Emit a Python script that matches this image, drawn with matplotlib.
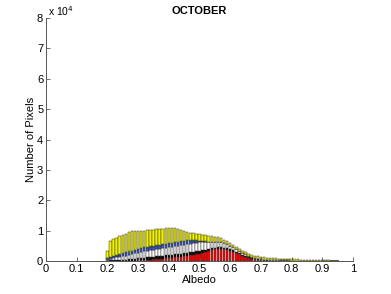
import numpy as np
import matplotlib.pyplot as plt

plt.rcParams['font.family'] = ['Liberation Sans', 'DejaVu Sans']

# albedo bin centres 0.20 ... 0.95, step 0.01
albedo = np.round(np.arange(0.20, 0.955, 0.01), 2)

red = [0, 0, 0, 0, 0, 0, 30, 70, 100, 130, 170, 230, 300, 330, 400, 500,
       590, 660, 760, 860, 990, 1090, 1190, 1320, 1450, 1580,
       1720, 1850, 1980, 2150, 2310, 2640, 2970, 3300, 3630, 3800,
       3960, 3960, 3800, 3630, 3300, 2970, 2640, 2150, 1650, 1320,
       990, 730, 530, 400, 300, 200, 130, 100] + [70] * 6 + [30] * 16

black = [100, 170, 230, 330, 330, 400, 460, 500, 560, 590, 660,
         760, 790, 860, 920, 920, 960, 990, 990, 990, 990,
         990, 1020, 990, 990, 990, 990, 990, 990, 990, 990,
         830, 660, 660, 500, 500, 500, 500, 500, 500, 500,
         500, 330, 330, 330, 330, 260, 200, 130, 100, 70,
         70, 70, 30] + [30] * 22

white = [230, 500, 760, 830, 990, 1250, 1320, 1420, 1650, 1750, 1820,
         1980, 2050, 2110, 2150, 2210, 2240, 2310, 2380, 2440, 2480,
         2540, 2570, 2640, 2670, 2710, 2740, 2770, 2810, 2810, 2810,
         2810, 2640, 2310, 2150, 1980, 1820, 1650, 1490, 1320, 1160,
         990, 990, 830, 660, 500, 400, 400, 330, 260, 230,
         170, 130, 130] + [100] * 12 + [70] * 10

blue = [330, 500, 500, 500, 660, 660, 660, 660, 660, 830, 990] + [990] * 16 + \
       [830, 660, 500, 330, 170, 100, 70, 30] + [0] * 41

green = [170, 170, 170, 330, 330, 330, 330, 500, 330, 330, 330] + [330] * 19 + \
        [170, 170, 100, 70, 30, 30] + [0] * 40

yellow = [2480, 5280, 5610, 5610, 5940, 5940, 6110, 6440, 6600, 6270, 5940,
          5610, 5450, 5610, 5450, 5280, 5450, 5280, 5120, 5280, 5120,
          4950, 4790, 4290, 3800, 3300, 2810, 2480, 2480, 2150, 2310,
          1980, 2110, 1850, 1910, 1620, 1650, 1490, 1160, 1160, 990,
          830, 660, 660, 660, 830, 660, 660, 660, 730, 730,
          730, 660, 730,
          690, 630, 560, 530, 460, 460,
          430, 400, 360, 330, 300, 260, 260, 230, 200, 170, 130, 100, 70, 30, 30, 20]

layers = [red, black, white, blue, green, yellow]
colors = ['#ff0000', '#000000', '#ffffff', '#3355e6', '#44cc44', '#f2f200']

fig = plt.figure(figsize=(3.91, 2.94), dpi=100)
ax = fig.add_axes([46 / 391, 33 / 294, 307 / 391, 243 / 294])

bottom = np.zeros(len(albedo))
for vals, c in zip(layers, colors):
    vals = np.array(vals, dtype=float)
    ax.bar(albedo, vals, width=0.008, bottom=bottom, color=c,
           edgecolor='#333333', linewidth=0.35)
    bottom += vals

ax.set_xlim(0, 1)
ax.set_ylim(0, 80000)
ax.set_xticks(np.arange(0, 1.01, 0.1))
ax.set_xticklabels(['0', '0.1', '0.2', '0.3', '0.4', '0.5', '0.6', '0.7', '0.8', '0.9', '1'])
ax.set_yticks(np.arange(0, 80001, 10000))
ax.set_yticklabels([str(i) for i in range(9)])
ax.tick_params(direction='in', length=3, width=0.6, color='#555555', labelsize=8, pad=2)
ax.spines['top'].set_visible(False)
ax.spines['right'].set_visible(False)
for s in ['left', 'bottom']:
    ax.spines[s].set_color('#555555')
    ax.spines[s].set_linewidth(0.7)

ax.text(0.005, 1.0, r'x 10$^4$', transform=ax.transAxes, fontsize=7.5, va='bottom', ha='left')
ax.set_title('OCTOBER', fontsize=8, fontweight='bold', pad=3)
ax.set_xlabel('Albedo', fontsize=8, labelpad=1)
ax.set_ylabel('Number of Pixels', fontsize=8, labelpad=1)

fig.savefig('out.png', dpi=100)
